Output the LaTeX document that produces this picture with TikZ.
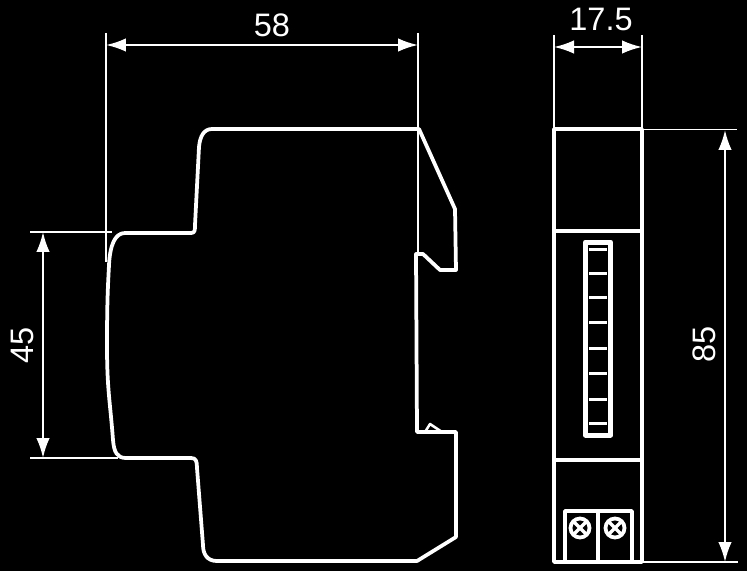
\documentclass[tikz,border=0pt]{standalone}
\usepackage{fontspec}
\setmainfont{Liberation Sans}
\usetikzlibrary{arrows.meta}
\tikzset{
    outline/.style={white, line width=0.075cm, line join=round},
    extline/.style={white, line width=0.035cm},
    dimline/.style={white, line width=0.04cm, {Latex[length=0.4cm,width=0.27cm]}-{Latex[length=0.4cm,width=0.27cm]}},
    dimtext/.style={white, inner sep=0pt, font=\fontsize{18.5}{20}\selectfont},
}
\begin{document}
\begin{tikzpicture}[x=0.02cm,y=-0.02cm]
    \fill[black] (0,0) rectangle (747,571);
    \useasboundingbox (0,0) rectangle (747,571);
    % side view
    \draw[outline] (212,129) -- (419,129) -- (455,209) -- (456,270) -- (440,270) -- (423,254) -- (416,254)
        -- (417,432) -- (456,432) -- (456,537) -- (417,561) -- (217,561)
        .. controls (207,561) and (203,554) .. (203,545) -- (197,468)
        .. controls (197,461) and (196,458) .. (191,458) -- (126,458)
        .. controls (117,458) and (114,452) .. (113,440)
        .. controls (110,400) and (107,390) .. (107,345)
        .. controls (107,300) and (108,285) .. (109,265)
        .. controls (110,245) and (115,233) .. (125,233) -- (191,233)
        .. controls (195,233) and (195,230) .. (195,225) -- (199,147)
        .. controls (200,136) and (204,129) .. (212,129) -- cycle;
    \draw[outline, line width=0.05cm] (425,432) -- (430,424) -- (442,432);
    % front view
    \draw[outline] (554,129) rectangle (642,562);
    \draw[outline] (554,231) -- (642,231);
    \draw[outline] (554,460) -- (642,460);
    \draw[outline, line width=0.1cm] (585.5,242) rectangle (610.5,435);
    \foreach \y in {249,273,297,322,348,373,399,423}
        \draw[outline, line width=0.06cm] (589,\y) -- (607,\y);
    \draw[outline, line width=0.07cm] (565,562) |- (632,511) -- (632,562);
    \draw[outline, line width=0.09cm] (598,511) -- (598,562);
    \foreach \x in {580,615} {
        \draw[outline] (\x,528) circle (9.5);
        \draw[outline, line width=0.065cm] (\x-7,521) -- (\x+7,535);
        \draw[outline, line width=0.065cm] (\x-7,535) -- (\x+7,521);
    }
    % dimension points
    \coordinate (w1) at (106,45);
    \coordinate (w2) at (418,45);
    \coordinate (f1) at (554,47);
    \coordinate (f2) at (642,47);
    \coordinate (h1) at (43,232);
    \coordinate (h2) at (43,458);
    \coordinate (t1) at (725,130);
    \coordinate (t2) at (725,562);
    \draw[extline] (106,33) -- (106,262);
    \draw[extline] (418,33) -- (418,254);
    \draw[extline] (554,35) -- (554,129);
    \draw[extline] (642,35) -- (642,129);
    \draw[extline] (30,232) -- (112,232);
    \draw[extline] (30,458) -- (118,458);
    \draw[extline] (642,129.5) -- (737,129.5);
    \draw[extline] (642,562) -- (738,562);
    \draw[dimline] (w1) -- (w2);
    \draw[dimline] (f1) -- (f2);
    \draw[dimline] (h1) -- (h2);
    \draw[dimline] (t1) -- (t2);
    \node[dimtext] (lblw) at (272,25) {58};
    \node[dimtext] (lblf) at (601,19) {17.5};
    \node[dimtext, rotate=90] (lblh) at (22,345) {45};
    \node[dimtext, rotate=90] (lblt) at (704,344) {85};
\end{tikzpicture}
\end{document}
